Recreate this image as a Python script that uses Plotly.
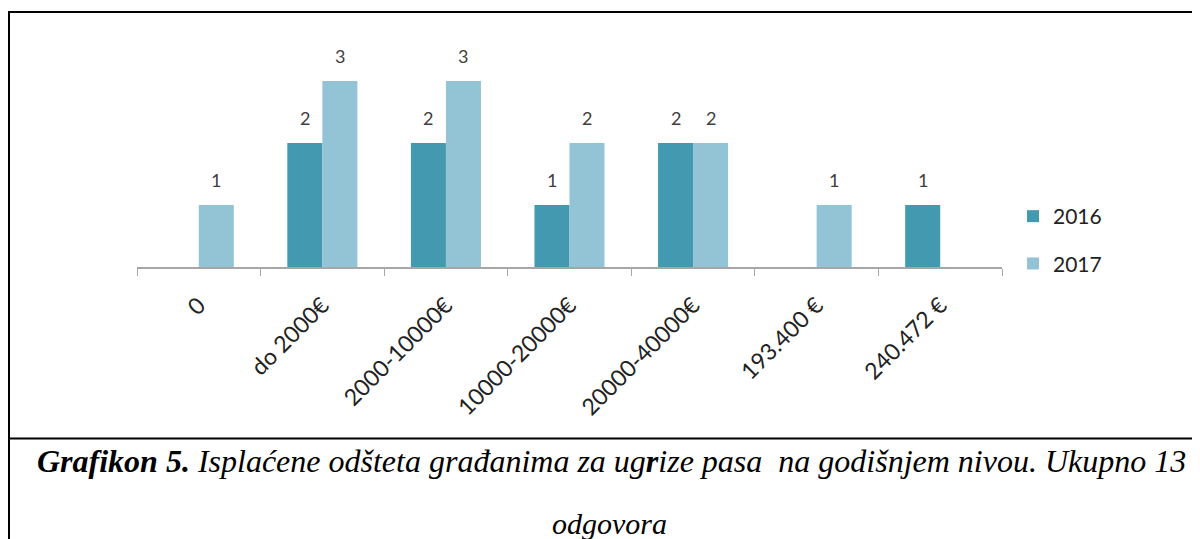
import plotly.graph_objects as go

categories = ["0", "do 2000€", "2000-10000€", "10000-20000€", "20000-40000€", "193.400 €", "240.472 €"]
values_2016 = [None, 2, 2, 1, 2, None, 1]
values_2017 = [1, 3, 3, 2, 2, 1, None]
series_names = ["2016", "2017"]
colors = ["#4399B0", "#93C4D6"]

OFF = 8  # page body margin
W, H = 1200 - OFF, 539 - OFF
L, T = 137 - OFF, 40 - OFF
R = W - (1002 - OFF)
B = H - (267 - OFF)
plot_w = W - L - R
plot_h = H - T - B

def px_x(px):
    return (px - OFF - L) / plot_w

def px_y(py):
    return (H - B - (py - OFF)) / plot_h

fig = go.Figure()
for name, vals, col in zip(series_names, [values_2016, values_2017], colors):
    fig.add_trace(go.Bar(
        x=categories, y=vals, name=name, marker_color=col,
        marker_line_width=0, legendgroup=name,
    ))

# value labels
for i, vals in enumerate([values_2016, values_2017]):
    shift = -17.5 if i == 0 else 17.5
    for c, v in zip(categories, vals):
        if v is None:
            continue
        fig.add_annotation(
            x=c, y=v, text=str(v), showarrow=False, xshift=shift, yshift=25,
            font=dict(family="Lato, Open Sans, sans-serif", size=18, color="#404040"),
        )

# border and caption separator
fig.add_shape(type="rect", xref="paper", yref="paper",
              x0=px_x(9), x1=px_x(1210), y0=px_y(12), y1=px_y(550),
              line=dict(color="black", width=2), layer="below")
fig.add_shape(type="line", xref="paper", yref="paper",
              x0=px_x(9), x1=px_x(1210), y0=px_y(438.5), y1=px_y(438.5),
              line=dict(color="black", width=2))

fig.add_annotation(
    xref="paper", yref="paper", x=px_x(611), y=px_y(461), showarrow=False,
    xanchor="center", yanchor="middle",
    text="<b><i>Grafikon 5.</i></b><i> Isplaćene odšteta građanima za ug<b>r</b>ize pasa  na godišnjem nivou. Ukupno 13</i>",
    font=dict(family="Liberation Serif, Times New Roman, serif", size=32, color="black"),
)
fig.add_annotation(
    xref="paper", yref="paper", x=px_x(609), y=px_y(523), showarrow=False,
    xanchor="center", yanchor="middle",
    text="<i>odgovora</i>",
    font=dict(family="Liberation Serif, Times New Roman, serif", size=30, color="black"),
)

fig.update_layout(
    width=W, height=H,
    margin=dict(l=L, r=R, t=T, b=B, pad=0),
    paper_bgcolor="white", plot_bgcolor="white",
    barmode="group", bargap=0.433, bargroupgap=0,
    font=dict(family="Lato, Open Sans, sans-serif", size=17, color="#404040"),
    legend=dict(x=px_x(1013), y=px_y(196), xanchor="left", yanchor="top",
                tracegroupgap=17, font=dict(size=21, color="#222222"),
                bgcolor="rgba(0,0,0,0)"),
    xaxis=dict(showline=True, linecolor="#A6A6A6", linewidth=1.5,
               ticks="outside", tickson="boundaries", ticklen=7, tickcolor="#A6A6A6",
               tickangle=-45, showgrid=False, fixedrange=True, ticklabelstandoff=14,
               tickfont=dict(size=23, color="#222222")),
    yaxis=dict(visible=False, range=[0, (H - B - T) / 62], showgrid=False, fixedrange=True),
    showlegend=True,
)

fig.write_html("out.html")
